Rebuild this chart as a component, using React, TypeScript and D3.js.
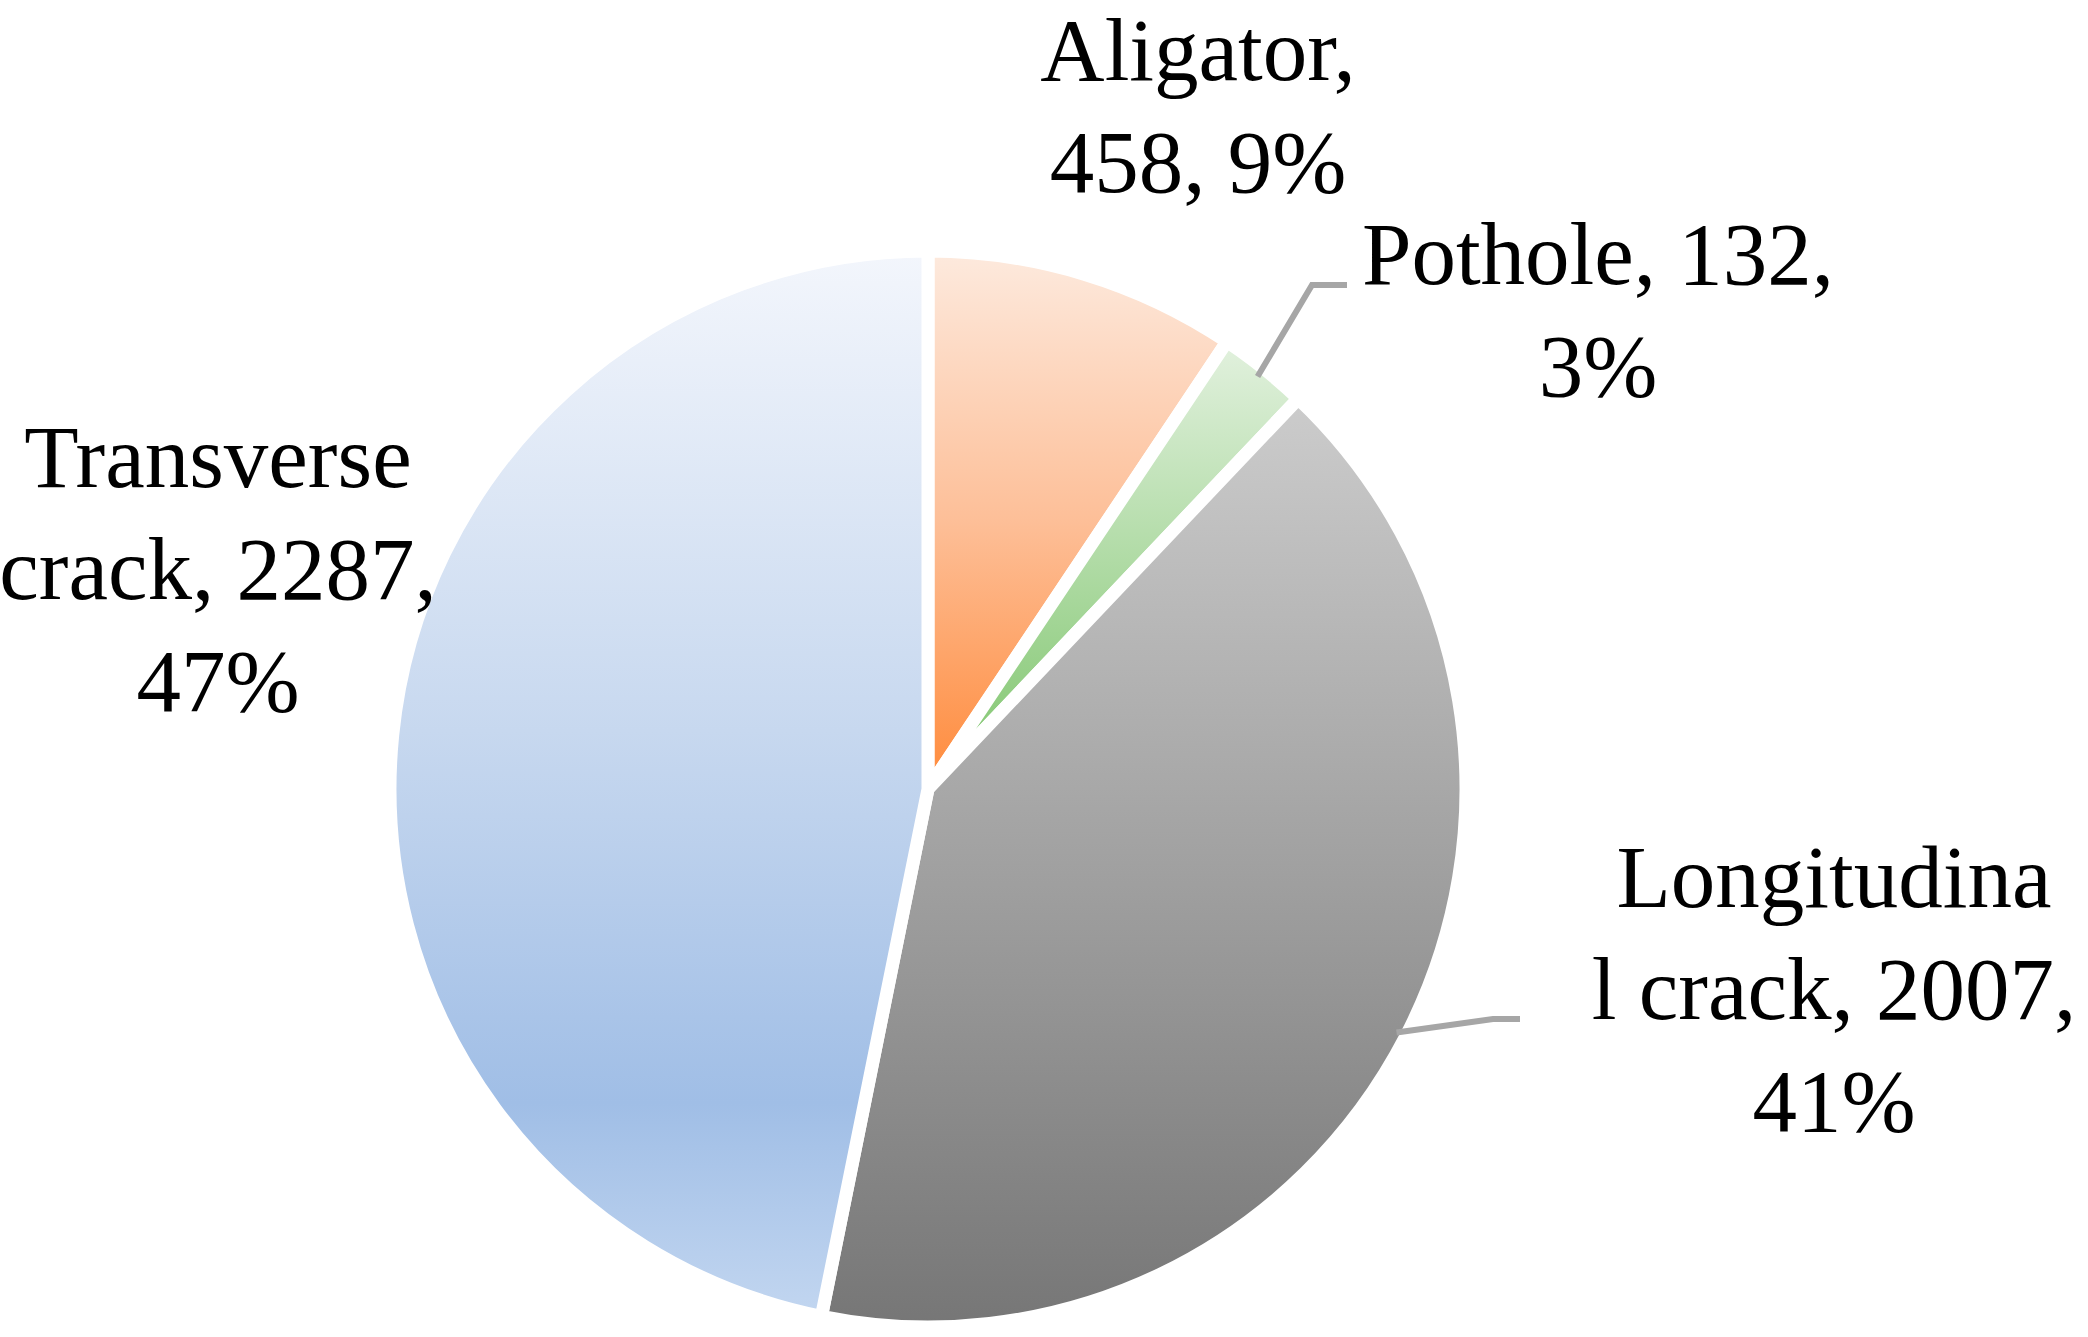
import React from "react";
import * as d3 from "d3";

const categories = ["Aligator", "Pothole", "Longitudinal crack", "Transverse crack"];
const values = [458, 132, 2007, 2287];
const labelLines = [
  ["Aligator,", "458, 9%"],
  ["Pothole, 132,", "3%"],
  ["Longitudina", "l crack, 2007,", "41%"],
  ["Transverse", "crack, 2287,", "47%"],
];

const W = 2088;
const H = 1337;
const CX = 928;
const CY = 789;
const R = 538;
const FONT = "'Liberation Serif', 'Times New Roman', serif";
const FS = 89;
const LH = 112;

// layout: label centre x and first baseline y; leader elbow points (null = no leader)
const labelLayout = [
  { x: 1198, y: 80, leader: null },
  { x: 1598, y: 284, leader: { elbow: [1312, 285], end: [1347, 285] } },
  { x: 1834, y: 907, leader: { elbow: [1493, 1019], end: [1520, 1019] } },
  { x: 218, y: 487, leader: null },
];

const gradients = [
  { id: "g-orange", stops: [["0", "#fdeade"], ["0.5", "#fdbf98"], ["1", "#ff8a3a"]] },
  { id: "g-green", stops: [["0", "#e2f1de"], ["1", "#7cc46a"]] },
  { id: "g-gray", stops: [["0", "#cccccc"], ["1", "#767676"]] },
  { id: "g-blue", stops: [["0", "#f3f6fc"], ["0.45", "#c7d8ef"], ["0.8", "#a0bee6"], ["1", "#c2d6f0"]] },
];

export default function App() {
  const pie = d3
    .pie<number>()
    .sort(null)
    .value((d) => d)
    .startAngle(0)
    .endAngle(2 * Math.PI);
  const arcs = pie(values);
  const arc = d3.arc<d3.PieArcDatum<number>>().innerRadius(0).outerRadius(R);
  const edgeArc = d3.arc<d3.PieArcDatum<number>>().innerRadius(528).outerRadius(528);

  return (
    <svg
      width={W}
      height={H}
      viewBox={`0 0 ${W} ${H}`}
      style={{ position: "absolute", left: 0, top: 0, background: "#fff" }}
    >
      <defs>
        {gradients.map((g) => (
          <linearGradient key={g.id} id={g.id} x1="0" y1="0" x2="0" y2="1">
            {g.stops.map(([o, c]) => (
              <stop key={o} offset={o} stopColor={c} />
            ))}
          </linearGradient>
        ))}
      </defs>
      <g transform={`translate(${CX},${CY})`}>
        {arcs.map((a, i) => (
          <path
            key={categories[i]}
            d={arc(a) || ""}
            fill={`url(#${gradients[i].id})`}
            stroke="#ffffff"
            strokeWidth={13}
            strokeLinejoin="miter"
          />
        ))}
      </g>
      {arcs.map((a, i) => {
        const L = labelLayout[i];
        if (!L.leader) return null;
        const [sx, sy] = edgeArc.centroid(a);
        const pts: [number, number][] = [
          [CX + sx, CY + sy],
          L.leader.elbow as [number, number],
          L.leader.end as [number, number],
        ];
        return (
          <path
            key={"leader" + i}
            d={d3.line()(pts) || ""}
            fill="none"
            stroke="#a6a6a6"
            strokeWidth={6}
          />
        );
      })}
      {labelLines.map((lines, i) => {
        const L = labelLayout[i];
        return (
          <text
            key={"label" + i}
            x={L.x}
            y={L.y}
            textAnchor="middle"
            fontFamily={FONT}
            fontSize={FS}
            fill="#000"
          >
            {lines.map((t, j) => (
              <tspan key={j} x={L.x} y={L.y + j * LH}>
                {t}
              </tspan>
            ))}
          </text>
        );
      })}
    </svg>
  );
}
